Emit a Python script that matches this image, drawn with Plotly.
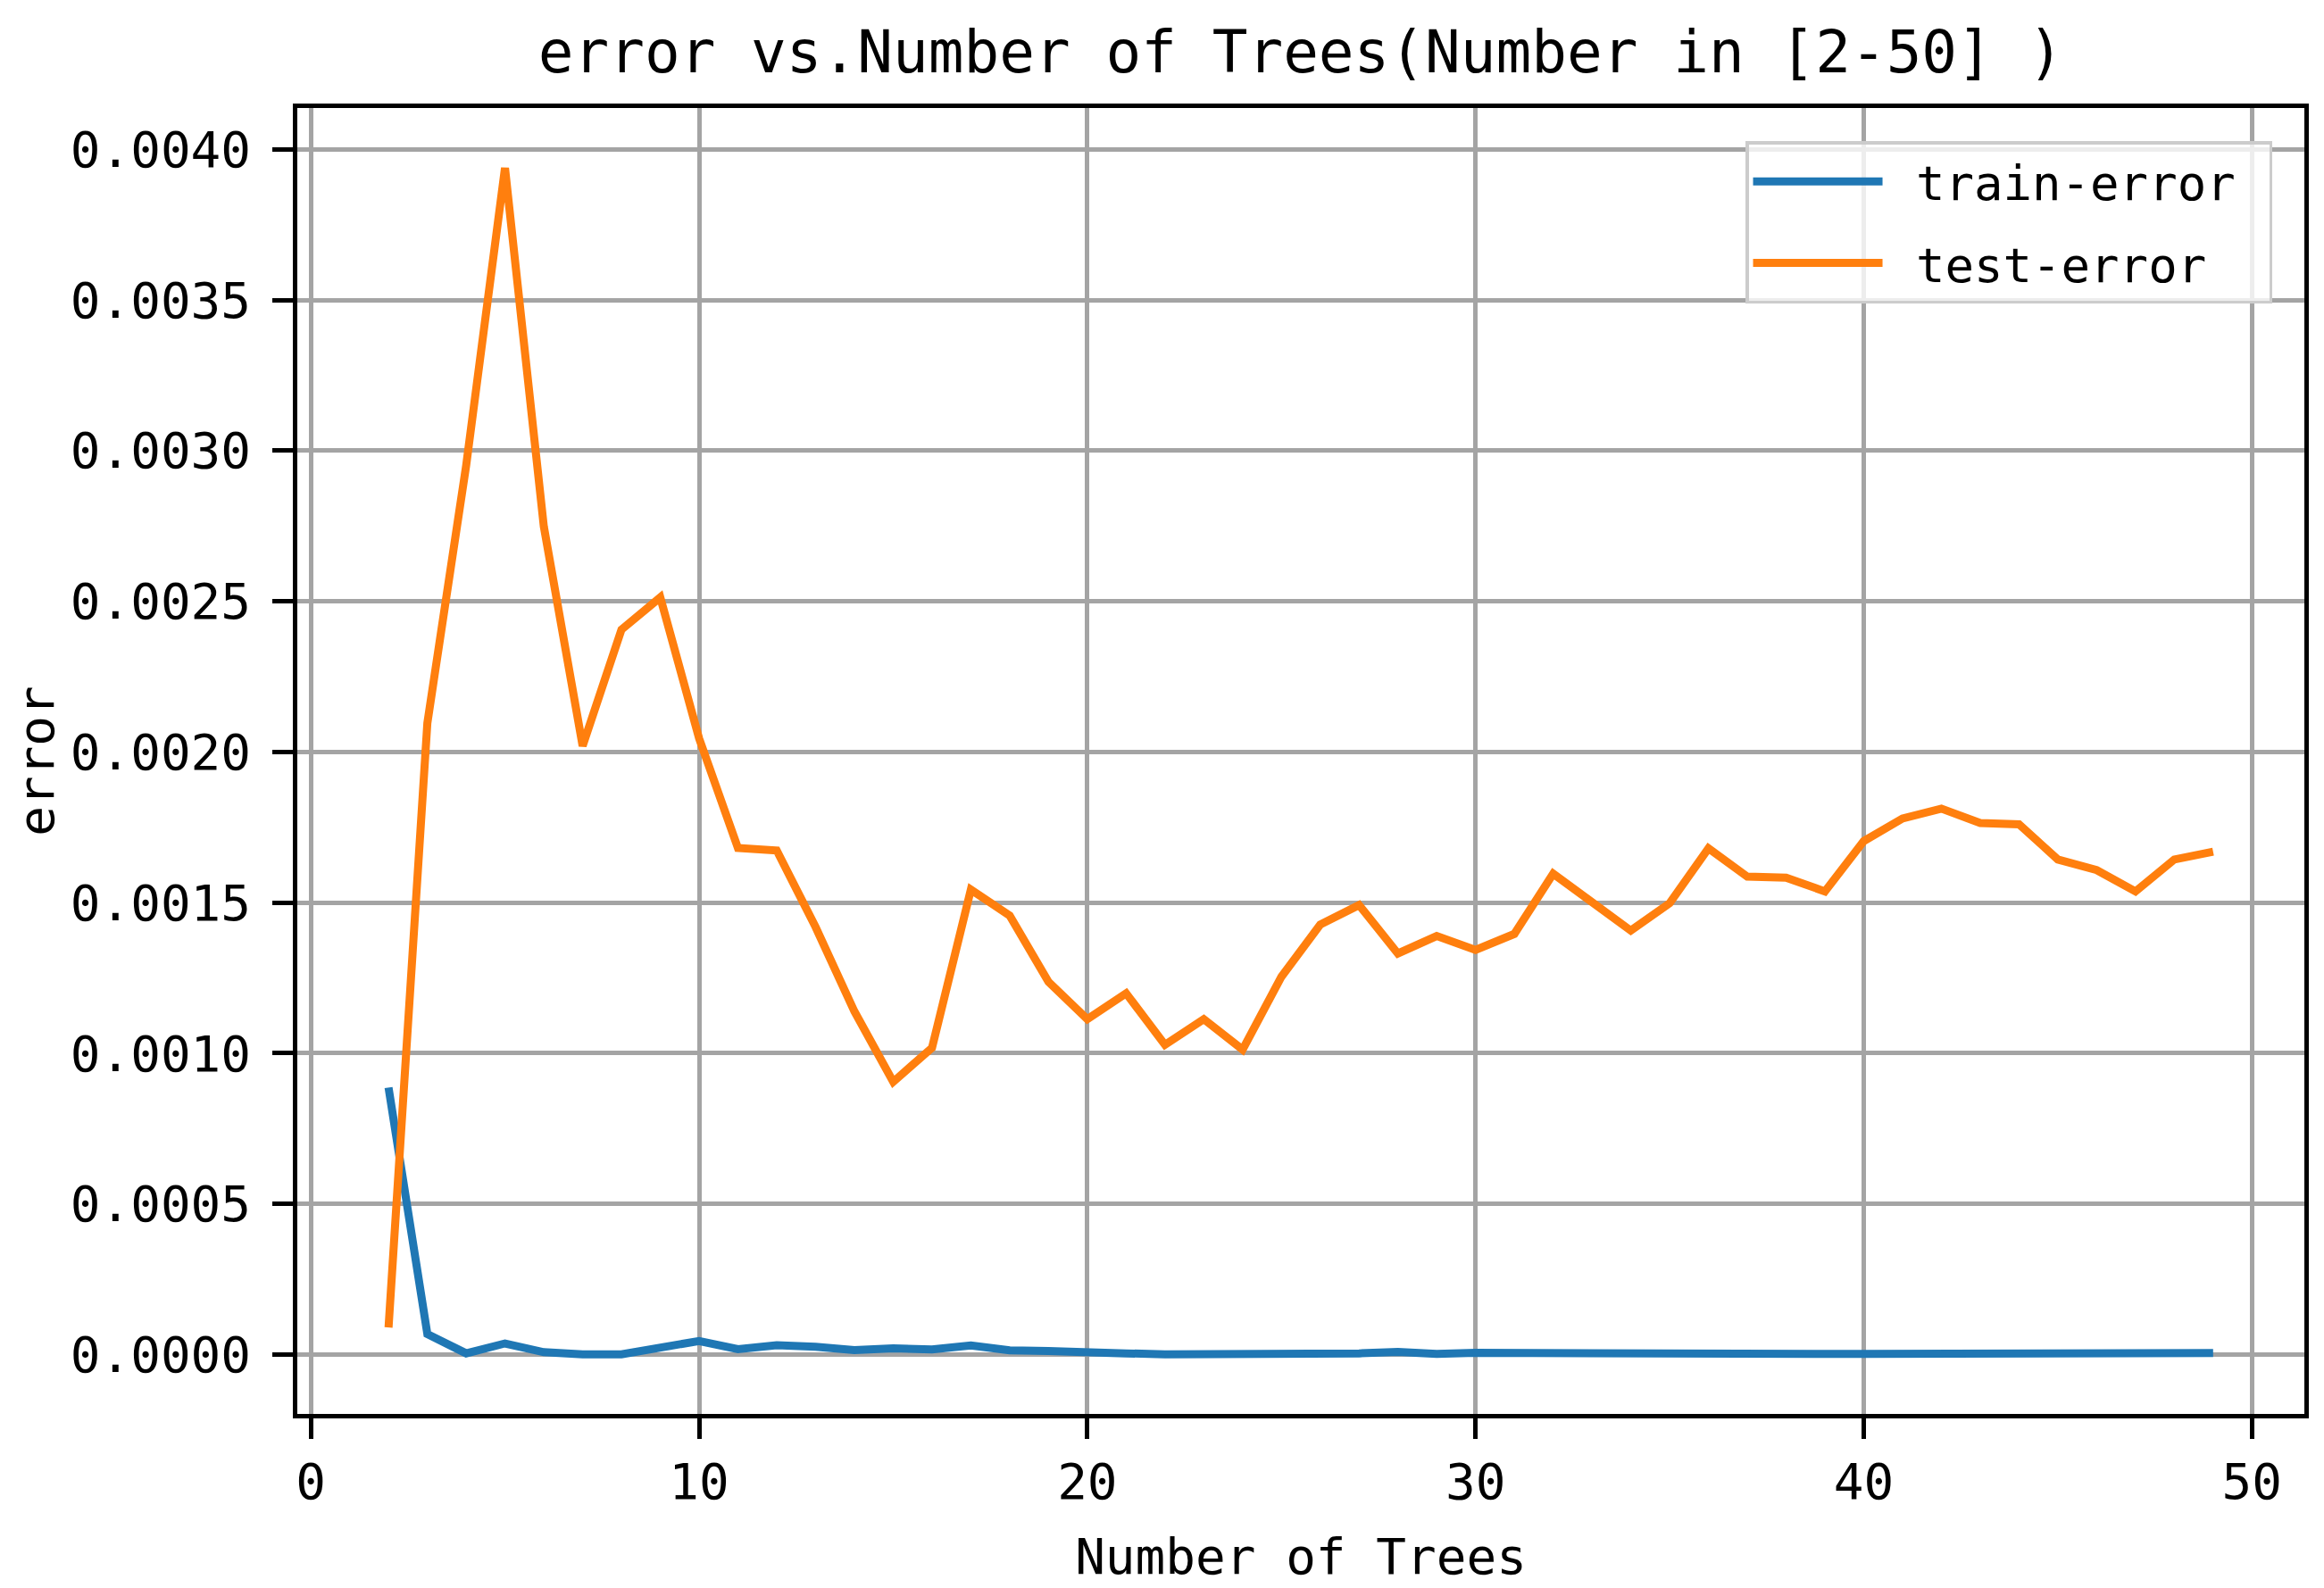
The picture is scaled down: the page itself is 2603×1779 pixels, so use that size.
import plotly.graph_objects as go

n_trees = list(range(2, 50))

train_error = [
    0.000886, 0.000068, 0.000004, 0.000037, 0.000008, 0.000001, 0.000001, 0.000023,
    0.000045, 0.000018, 0.000031, 0.000026, 0.000015, 0.000021, 0.000017, 0.000030,
    0.000014, 0.000012, 0.000006, 0.000004, 0.000001, 0.000001, 0.000001, 0.000005,
    0.000002, 0.000004, 0.000009, 0.000002, 0.000006, 0.000005, 0.000004, 0.000002,
    0.000002, 0.000002, 0.000002, 0.000002, 0.000002, 0.000002, 0.000002, 0.000002,
    0.000002, 0.000002, 0.000002, 0.000002, 0.000002, 0.000002, 0.000003, 0.000005,
]

test_error = [
    0.000090, 0.002096, 0.002951, 0.003938, 0.002748, 0.002020, 0.002406, 0.002513,
    0.002045, 0.001681, 0.001673, 0.001419, 0.001139, 0.000905, 0.001018, 0.001543,
    0.001457, 0.001237, 0.001113, 0.001199, 0.001028, 0.001113, 0.001012, 0.001254,
    0.001427, 0.001492, 0.001331, 0.001389, 0.001343, 0.001396, 0.001596, 0.001502,
    0.001407, 0.001498, 0.001680, 0.001586, 0.001583, 0.001537, 0.001704, 0.001779,
    0.001812, 0.001764, 0.001760, 0.001643, 0.001608, 0.001537, 0.001643, 0.001669,
]

x_ticks = [0, 10, 20, 30, 40, 50]
y_ticks = [0.0, 0.0005, 0.0010, 0.0015, 0.0020, 0.0025, 0.0030, 0.0035, 0.0040]
y_tick_labels = ["%.4f" % v for v in y_ticks]

series_names = ["train-error", "test-error"]

FONT = "DejaVu Sans Mono"
NBSP = "\u00a0"

# page body has an 8px default margin; figure is sized to fit the window
W, H = 2595, 1771

fig = go.Figure()
fig.add_trace(go.Scatter(x=n_trees, y=train_error, mode="lines",
                         name=NBSP + series_names[0] + NBSP, legendgroup="g1",
                         line=dict(color="#1f77b4", width=9)))
fig.add_trace(go.Scatter(x=n_trees, y=test_error, mode="lines",
                         name=NBSP + series_names[1] + NBSP, legendgroup="g2",
                         line=dict(color="#ff7f0e", width=9)))

axis_common = dict(
    showline=True, linecolor="black", linewidth=4.5, mirror=True,
    ticks="outside", ticklen=23, tickwidth=4.5, tickcolor="black",
    showgrid=True, gridcolor="#a4a4a4", gridwidth=4.5,
    zeroline=False, automargin=False,
    tickfont=dict(family=FONT, size=56, color="black"),
)

fig.update_xaxes(
    range=[-0.35, 51.35], tickvals=x_ticks,
    title=dict(text="Number of Trees", font=dict(family=FONT, size=56, color="black"), standoff=34),
    ticklabelstandoff=0,
    **axis_common,
)
fig.update_yaxes(
    range=[-0.000197, 0.004137], tickvals=y_ticks, ticktext=y_tick_labels,
    title=dict(text="error", font=dict(family=FONT, size=56, color="black"), standoff=32),
    ticklabelstandoff=13,
    **axis_common,
)

fig.update_layout(
    width=W, height=H,
    margin=dict(l=325, r=22, t=113, b=195),
    paper_bgcolor="white", plot_bgcolor="white",
    font=dict(family=FONT, size=56, color="black"),
    title=dict(text="error vs.Number of Trees(Number in [2-50] )",
               font=dict(family=FONT, size=66, color="black"),
               x=0.5, xref="paper", xanchor="center",
               y=1 - 50 / H, yref="container", yanchor="middle", automargin=False),
    legend=dict(
        x=0.984, y=0.9746, xanchor="right", yanchor="top",
        bgcolor="rgba(255,255,255,0.8)", bordercolor="#cccccc", borderwidth=3.5,
        font=dict(family=FONT, size=54, color="black"),
        itemwidth=145, tracegroupgap=18,
    ),
    showlegend=True,
)

fig.write_html("out.html")
